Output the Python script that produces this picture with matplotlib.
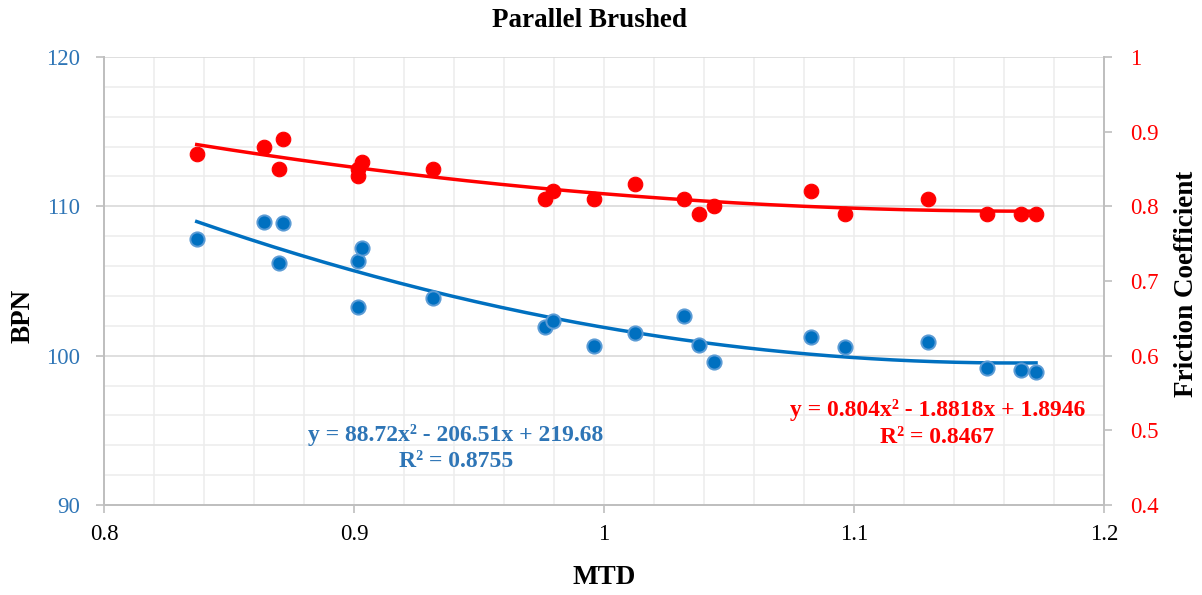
import numpy as np
import matplotlib
matplotlib.use("Agg")
import matplotlib.pyplot as plt
from matplotlib.ticker import MultipleLocator

plt.rcParams["font.family"] = ["Liberation Serif", "DejaVu Serif"]

# MTD of each test section
mtd = [0.8371, 0.8639, 0.8715, 0.8700, 0.9015, 0.9032, 0.9015, 0.9315,
       0.9763, 0.9797, 0.9961, 1.0124, 1.0320, 1.0380, 1.0440, 1.0828,
       1.0964, 1.1296, 1.1532, 1.1668, 1.1728]
bpn = [107.84, 108.93, 108.88, 106.20, 106.32, 107.19, 103.24, 103.86,
       101.92, 102.30, 100.62, 101.49, 102.63, 100.69, 99.55, 101.23,
       100.56, 100.89, 99.15, 99.02, 98.88]
friction = [0.87, 0.88, 0.89, 0.85, 0.85, 0.86, 0.84, 0.85,
            0.81, 0.82, 0.81, 0.83, 0.81, 0.79, 0.80, 0.82,
            0.79, 0.81, 0.79, 0.79, 0.79]

x_ticks = [0.8, 0.9, 1.0, 1.1, 1.2]
x_labels = ["0.8", "0.9", "1", "1.1", "1.2"]
bpn_ticks = [90, 100, 110, 120]
fric_ticks = [0.4, 0.5, 0.6, 0.7, 0.8, 0.9, 1.0]
fric_labels = ["0.4", "0.5", "0.6", "0.7", "0.8", "0.9", "1"]

# quadratic trendline coefficients (a, b, c) and R²
bpn_fit = (88.72, -206.51, 219.68)
bpn_r2 = 0.8755
fric_fit = (0.804, -1.8818, 1.8946)
fric_r2 = 0.8467

BLUE = "#0070C0"
BLUE_TXT = "#2E75B6"
RED = "#FF0000"
GRID = "#EDEDED"
AXIS = "#BFBFBF"

fig = plt.figure(figsize=(12.02, 5.95), dpi=100)
ax = fig.add_axes([0.0865, 0.1513, 0.832, 0.7529])
ax2 = ax.twinx()

ax.set_xlim(0.8, 1.2)
ax.set_ylim(90, 120)
ax2.set_ylim(0.4, 1.0)

ax.set_xticks(x_ticks, x_labels)
ax.set_yticks(bpn_ticks, [str(t) for t in bpn_ticks])
ax2.set_yticks(fric_ticks, fric_labels)
ax.xaxis.set_minor_locator(MultipleLocator(0.02))
ax.yaxis.set_minor_locator(MultipleLocator(2))

ax.grid(which="minor", color=GRID, lw=1.2)
ax.grid(which="major", axis="x", color=GRID, lw=1.2)
ax.grid(which="major", axis="y", color="#D9D9D9", lw=1.2)
ax.set_axisbelow(True)
ax.tick_params(which="minor", length=0)

for a in (ax, ax2):
    for side in ("left", "right", "bottom"):
        a.spines[side].set_color(AXIS)
        a.spines[side].set_linewidth(1.3)
    a.spines["top"].set_visible(False)

ax.tick_params(axis="y", which="major", colors=AXIS, labelcolor=BLUE_TXT,
               labelsize=16.5, length=6, width=1.2, pad=11)
ax.tick_params(axis="x", which="major", colors=AXIS, labelcolor="black",
               labelsize=16.5, length=6, width=1.2, pad=8)
ax2.tick_params(axis="y", which="major", colors=AXIS, labelcolor=RED,
                labelsize=16.5, length=6, width=1.2, pad=13)

# trendlines from the stated coefficients
xs = np.linspace(min(mtd), max(mtd), 200)
ax.plot(xs, np.polyval(bpn_fit, xs), color=BLUE, lw=2.5, zorder=2)
ax2.plot(xs, np.polyval(fric_fit, xs), color=RED, lw=2.5, zorder=2)

ax.scatter(mtd, bpn, s=105, color=BLUE, edgecolors="#5B9BD5", linewidths=1.4,
           zorder=3)
ax2.scatter(mtd, friction, s=110, color=RED, edgecolors=RED, linewidths=0.8,
            zorder=3)

eq = dict(fontweight="bold", fontsize=17, ha="center", va="center")
ax.text(0.9408, 94.66,
        f"y = {bpn_fit[0]}x² - {abs(bpn_fit[1])}x + {bpn_fit[2]}",
        color=BLUE_TXT, **eq)
ax.text(0.9408, 92.92, f"R² = {bpn_r2}", color=BLUE_TXT, **eq)
ax2.text(1.1334, 0.5267,
         f"y = {fric_fit[0]}x² - {abs(fric_fit[1])}x + {fric_fit[2]}",
         color=RED, **eq)
ax2.text(1.1334, 0.4906, f"R² = {fric_r2}", color=RED, **eq)

title = dict(fontweight="bold", fontsize=19.5, ha="center", va="center")
fig.text(0.4908, 0.965, "Parallel Brushed", **title)
fig.text(0.5025, 0.0286, "MTD", **title)
fig.text(0.019, 0.469, "BPN", rotation=90, **title)
fig.text(0.9875, 0.5235, "Friction Coefficient", rotation=90, **title)

fig.savefig("out.png", dpi=100)
